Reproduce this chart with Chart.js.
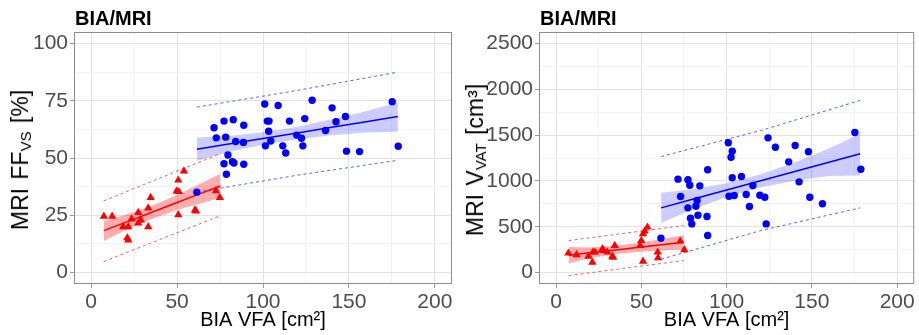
<!DOCTYPE html>
<html>
<head>
<meta charset="utf-8">
<script src="https://cdn.jsdelivr.net/npm/chart.js@4/dist/chart.umd.min.js"></script>
<style>
  body { margin: 0; background: #fff; width: 919px; height: 335px; position: relative; overflow: hidden;
         font-family: "Liberation Sans", Arial, sans-serif; }
  .box { position: absolute; top: 0; height: 335px; }
  .ptitle { position: absolute; top: 8px; font-size: 20px; font-weight: bold; line-height: 1; color: #000; }
  .ytitle { position: absolute; top: 160px; font-size: 23px; line-height: 1; color: #000; white-space: nowrap;
            word-spacing: 2px; transform: translate(-50%, -50%) rotate(-90deg); }
  .ytitle sub { font-size: 15px; vertical-align: -3px; }
</style>
</head>
<body>
<div class="box" style="left:0;width:460px"><canvas id="left"></canvas></div>
<div class="box" style="left:460px;width:459px"><canvas id="right"></canvas></div>
<div class="ptitle" style="left:75px">BIA/MRI</div>
<div class="ptitle" style="left:540px">BIA/MRI</div>
<div class="ytitle" style="left:21px">MRI FF<sub>VS</sub> [%]</div>
<div class="ytitle" style="left:476px">MRI V<sub>VAT</sub> [cm³]</div>

<script>
// shared axis
const xTicks = [0, 50, 100, 150, 200];
const xTitle = 'BIA VFA [cm²]';

// left panel: MRI FF_VS [%]
const leftYTicks = [0, 25, 50, 75, 100];
const leftBlueX = [61.5, 71.5, 72.8, 77.3, 78.3, 79.6, 77.3, 78.7, 82.7, 84.1, 82.2, 83.1, 88.8, 88.6, 88.8, 101, 102.5, 103.5, 103.3, 104.5, 101.4, 108.8, 111.5, 113.2, 115.4, 119.6, 122.4, 123.2, 124.3, 128.6, 136.4, 140.2, 142.5, 148, 148.6, 156.2, 175.2, 178.7];
const leftBlueY = [35.1, 63.2, 58.8, 66.1, 59.1, 51.3, 47.5, 42.9, 66.7, 57.2, 48.4, 47.8, 64.3, 56.8, 47.3, 73.6, 66.1, 66.1, 61.7, 57.4, 55.3, 72.9, 55.3, 52.2, 66.1, 60, 58.6, 55.3, 67.2, 75.2, 62, 71.9, 65.8, 68.1, 53, 52.8, 74.6, 55.1];
const leftRedX = [7.4, 12.2, 18.6, 21.6, 21, 21.6, 23.5, 27.4, 28.9, 27.4, 33.2, 34.6, 33.2, 50.7, 54, 49.7, 51, 50.7, 60.4, 61, 72.6, 74.9];
const leftRedY = [24.5, 24.5, 20, 20, 15.1, 14.2, 23.3, 26.2, 22.9, 21.6, 28.1, 32.7, 20, 40.3, 44.3, 35.6, 35.3, 25.2, 27.3, 26.8, 35.7, 32.7];

const leftBlueFitX = [61.5, 80, 100, 120, 140, 160, 178.5];
const leftBlueFit = [53.8, 56.1, 58.5, 60.9, 63.4, 65.8, 68.1];
const leftBlueCiHi = [59.0, 59.6, 61.2, 63.6, 66.9, 70.4, 74.2];
const leftBlueCiLo = [48.8, 52.6, 55.8, 58.2, 59.9, 61.1, 61.5];
const leftBluePiX = [61.5, 120, 178.5];
const leftBluePiHi = [72.2, 79.5, 87.5];
const leftBluePiLo = [35.1, 42.5, 49.0];

const leftRedFitX = [7.3, 20, 35, 50, 62, 75.2];
const leftRedFit = [18.3, 21.9, 26.2, 30.6, 34.0, 37.8];
const leftRedCiHi = [22.5, 25.2, 29.1, 33.9, 38.2, 43.1];
const leftRedCiLo = [13.8, 18.6, 23.3, 27.3, 29.8, 32.6];
const leftRedPiX = [7.3, 75.2];
const leftRedPiHi = [31.3, 51.9];
const leftRedPiLo = [4.8, 24.8];

// right panel: MRI V_VAT [cm3]
const rightYTicks = [0, 500, 1000, 1500, 2000, 2500];
const rightBlueX = [61.5, 71.5, 73, 77.3, 78.4, 77.3, 78.8, 79.6, 82.7, 82, 83.2, 84.3, 88.9, 88.5, 88.9, 101, 103.3, 102.6, 103.3, 101.4, 104.5, 108.7, 111.5, 113.4, 115.4, 119.5, 122.4, 123.2, 124.3, 128.6, 136.4, 140.2, 142.5, 148, 148.8, 156.2, 175.2, 178.7];
const rightBlueY = [375, 1019, 830, 1012, 953, 706, 593, 531, 786, 724, 626, 946, 1121, 611, 404, 1416, 1324, 1259, 1034, 833, 840, 1048, 852, 721, 950, 844, 822, 531, 1470, 1368, 1208, 1386, 990, 1318, 822, 750, 1528, 1128];
const rightRedX = [7.2, 12, 19, 21.3, 21.6, 22.8, 27.2, 28, 30.1, 33, 34.4, 49.3, 50, 51, 52, 53.6, 51, 59.6, 59.8, 72.8, 75.2, 33.5];
const rightRedY = [211, 193, 178, 112, 222, 222, 259, 240, 222, 178, 295, 295, 349, 422, 451, 495, 123, 222, 160, 342, 248, 165];

const rightBlueFitX = [61.6, 80, 100, 120, 140, 160, 178.3];
const rightBlueFit = [706, 799, 900, 1001, 1102, 1204, 1296];
const rightBlueCiHi = [871, 909, 975, 1073, 1202, 1354, 1514];
const rightBlueCiLo = [541, 689, 825, 929, 1002, 1054, 1059];
const rightBluePiX = [61.6, 120, 178.3];
const rightBluePiHi = [1266, 1550, 1878];
const rightBluePiLo = [145, 458, 706];

const rightRedFitX = [7.4, 20, 35, 50, 62, 74.9];
const rightRedFit = [190, 216, 247, 278, 303, 330];
const rightRedCiHi = [280, 274, 292, 328, 365, 408];
const rightRedCiLo = [100, 158, 202, 228, 241, 252];
const rightRedPiX = [7.4, 74.9];
const rightRedPiHi = [349, 513];
const rightRedPiLo = [-33, 131];

Chart.defaults.font.family = '"Liberation Sans", Arial, sans-serif';

const BLUE = '#0000ff', RED = '#ff0000';

function pts(xs, ys) {
  return xs.map((x, i) => ({x: x, y: ys[i]}));
}

// majors plus a minor gridline halfway between
function withMinors(major) {
  let out = [];
  major.forEach((v, i) => {
    out.push({value: v});
    if (i < major.length - 1) out.push({value: (v + major[i + 1]) / 2});
  });
  return out;
}

function axis(major, min, max, fitSize, horizontal, title) {
  const isMajor = v => major.includes(v);
  let s = {
    type: 'linear', min: min, max: max,
    afterBuildTicks: sc => { sc.ticks = withMinors(major); },
    afterFit: sc => {
      if (horizontal) sc.height = fitSize; else sc.width = fitSize;
      sc.paddingLeft = sc.paddingRight = sc.paddingTop = sc.paddingBottom = 0;
    },
    ticks: {
      autoSkip: false, maxRotation: 0, padding: 2, color: '#4d4d4d', font: {size: 21},
      callback: v => isMajor(v) ? String(v) : ''
    },
    grid: {
      color: c => (c.tick && isMajor(c.tick.value)) ? '#e2e2e2' : '#f2f2f2',
      tickColor: c => (c.tick && isMajor(c.tick.value)) ? '#9a9a9a' : 'rgba(0,0,0,0)',
      tickLength: 4, lineWidth: 1
    },
    border: {display: false}
  };
  if (title) s.title = {display: true, text: title, color: '#000', font: {size: 20}, padding: {top: 0, bottom: 3}};
  return s;
}

const panelBorder = {
  id: 'panelBorder',
  afterDatasetsDraw(chart) {
    const a = chart.chartArea, ctx = chart.ctx;
    ctx.save();
    ctx.strokeStyle = '#8c8c8c';
    ctx.lineWidth = 1;
    ctx.strokeRect(a.left + 0.5, a.top + 0.5, a.right - a.left - 1, a.bottom - a.top - 1);
    ctx.restore();
  }
};

function lineSet(xs, ys, color, width, dash) {
  return {data: pts(xs, ys), showLine: true, borderColor: color, borderWidth: width,
          borderDash: dash || [], pointRadius: 0, fill: false, tension: 0};
}
function bandSet(xs, ys, fillColor, fill) {
  return {data: pts(xs, ys), showLine: true, borderWidth: 0, borderColor: 'rgba(0,0,0,0)',
          backgroundColor: fillColor, pointRadius: 0, fill: fill, tension: 0};
}

function makeChart(id, p) {
  new Chart(document.getElementById(id), {
    type: 'scatter',
    data: {
      datasets: [
        {data: pts(p.blueX, p.blueY), backgroundColor: BLUE, pointRadius: 3.7, pointBorderWidth: 0, pointStyle: 'circle'},
        {data: pts(p.redX, p.redY), backgroundColor: RED, pointRadius: 4.8, pointBorderWidth: 0, pointStyle: 'triangle'},
        lineSet(p.blueFitX, p.blueFit, BLUE, 1.5),
        lineSet(p.redFitX, p.redFit, RED, 1.5),
        lineSet(p.bluePiX, p.bluePiHi, 'rgba(40,40,255,0.75)', 1, [3, 3]),
        lineSet(p.bluePiX, p.bluePiLo, 'rgba(40,40,255,0.75)', 1, [3, 3]),
        lineSet(p.redPiX, p.redPiHi, 'rgba(255,40,40,0.75)', 1, [3, 3]),
        lineSet(p.redPiX, p.redPiLo, 'rgba(255,40,40,0.75)', 1, [3, 3]),
        bandSet(p.blueFitX, p.blueCiHi, 'rgba(0,0,255,0.2)', '+1'),
        bandSet(p.blueFitX, p.blueCiLo, 'rgba(0,0,0,0)', false),
        bandSet(p.redFitX, p.redCiHi, 'rgba(255,0,0,0.32)', '+1'),
        bandSet(p.redFitX, p.redCiLo, 'rgba(0,0,0,0)', false)
      ]
    },
    options: {
      responsive: true, maintainAspectRatio: false, animation: false, events: [],
      layout: {padding: {left: 0, right: p.padRight, top: 32, bottom: 0}},
      plugins: {legend: {display: false}, tooltip: {enabled: false}},
      scales: {
        x: axis(xTicks, -10, 210, 51, true, xTitle),
        y: axis(p.yTicks, p.yMin, p.yMax, p.yWidth, false, null)
      }
    },
    plugins: [panelBorder]
  });
}

makeChart('left', {
  blueX: leftBlueX, blueY: leftBlueY, redX: leftRedX, redY: leftRedY,
  blueFitX: leftBlueFitX, blueFit: leftBlueFit, blueCiHi: leftBlueCiHi, blueCiLo: leftBlueCiLo,
  bluePiX: leftBluePiX, bluePiHi: leftBluePiHi, bluePiLo: leftBluePiLo,
  redFitX: leftRedFitX, redFit: leftRedFit, redCiHi: leftRedCiHi, redCiLo: leftRedCiLo,
  redPiX: leftRedPiX, redPiHi: leftRedPiHi, redPiLo: leftRedPiLo,
  yTicks: leftYTicks, yMin: -5, yMax: 105, yWidth: 74, padRight: 8
});

makeChart('right', {
  blueX: rightBlueX, blueY: rightBlueY, redX: rightRedX, redY: rightRedY,
  blueFitX: rightBlueFitX, blueFit: rightBlueFit, blueCiHi: rightBlueCiHi, blueCiLo: rightBlueCiLo,
  bluePiX: rightBluePiX, bluePiHi: rightBluePiHi, bluePiLo: rightBluePiLo,
  redFitX: rightRedFitX, redFit: rightRedFit, redCiHi: rightRedCiHi, redCiLo: rightRedCiLo,
  redPiX: rightRedPiX, redPiHi: rightRedPiHi, redPiLo: rightRedPiLo,
  yTicks: rightYTicks, yMin: -125, yMax: 2625, yWidth: 79, padRight: 2
});
</script>
</body>
</html>
